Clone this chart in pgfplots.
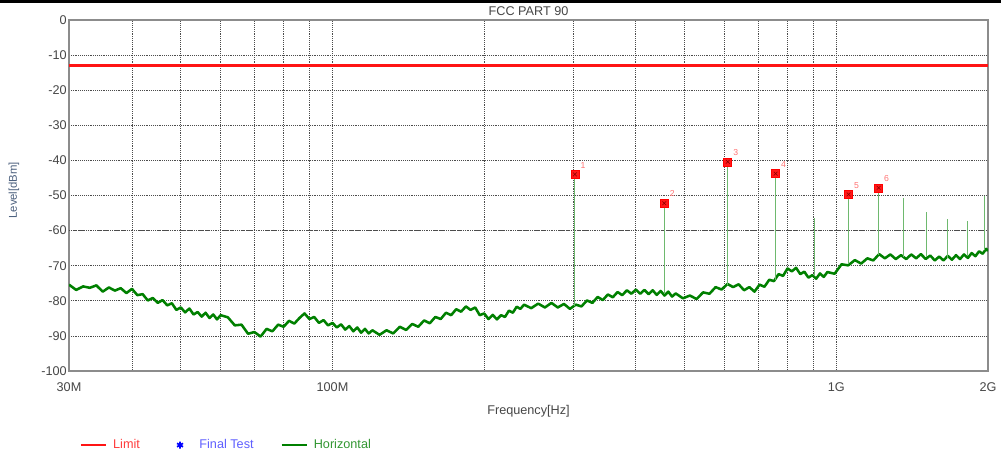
\documentclass[border=0pt]{standalone}
\usepackage{fontspec}
\setmainfont{Liberation Sans}
\usepackage{pgfplots}
\pgfplotsset{compat=1.18}

\definecolor{limitred}{RGB}{255,20,20}
\definecolor{tracegreen}{RGB}{0,128,0}
\definecolor{spikegreen}{RGB}{110,185,110}
\definecolor{labgray}{RGB}{70,70,70}
\definecolor{ylabcol}{RGB}{75,95,125}
\definecolor{legred}{RGB}{255,60,60}
\definecolor{legblue}{RGB}{95,95,255}
\definecolor{leggreen}{RGB}{50,150,50}

\pgfplotsset{
  limit legend/.style={legend image code/.code={
    \draw[draw=limitred, line width=0.9pt] (0pt,0pt) -- (18.75pt,0pt);}},
  trace legend/.style={legend image code/.code={
    \draw[draw=tracegreen, line width=0.9pt] (0pt,0pt) -- (18.75pt,0pt);}},
  star legend/.style={legend image code/.code={
    \path (0pt,0pt) (18.75pt,0pt);
    \draw[blue, line width=1.3pt, mark size=2.6pt] plot[mark=asterisk] coordinates {(9.4pt,0pt)};}},
}

\begin{document}
\begin{tikzpicture}
% page frame: 1 px = 0.75 pt
\useasboundingbox (-51.75pt,-71.25pt) rectangle (699pt,278.25pt);
\fill[black] (-51.75pt,276.2pt) rectangle (699pt,278.25pt);

\begin{axis}[
  scale only axis,
  width=689.25pt, height=263.25pt,
  xmode=log,
  xmin=30, xmax=2000, ymin=-100, ymax=0,
  xtick={30,100,1000,2000},
  xticklabels={30M,100M,1G,2G},
  minor xtick={40,50,60,70,80,90,200,300,400,500,600,700,800,900},
  ytick={-100,-90,-80,-70,-60,-50,-40,-30,-20,-10,0},
  yticklabels={-100,-90,-80,-70,-60,-50,-40,-30,-20,-10,0},
  extra y ticks={-60},
  extra y tick labels={},
  extra y tick style={grid style={black, densely dotted, line width=0.8pt}},
  grid=both,
  major grid style={black!70, densely dotted, line width=0.55pt},
  minor grid style={black!70, densely dotted, line width=0.55pt},
  major tick length=0pt, minor tick length=0pt,
  axis line style={black!45, line width=1.3pt},
  tick label style={font=\fontsize{9.5}{11}\selectfont, text=labgray},
  yticklabel style={inner sep=1.5pt},
  xticklabel style={yshift=-5pt},
  title={FCC PART 90},
  every axis title/.style={at={(axis description cs:0.5,1)}, anchor=center,
    yshift=7pt, font=\fontsize{9.5}{11}\selectfont, text=labgray},
  xlabel={Frequency[Hz]},
  every axis x label/.style={at={(axis description cs:0.5,0)}, anchor=center,
    yshift=-30pt, font=\fontsize{9.5}{11}\selectfont, text=labgray},
  ylabel={Level[dBm]},
  every axis y label/.style={at={(axis description cs:-0.0598,0.515)}, anchor=center,
    rotate=90, font=\fontsize{8.5}{10}\selectfont, text=ylabcol},
  legend columns=3,
  legend style={at={(axis description cs:0.012,-0.211)}, anchor=west,
    draw=none, fill=none, inner sep=0pt, font=\fontsize{9.5}{11}\selectfont,
    nodes={inner sep=0pt},
    /tikz/every odd column/.append style={column sep=5pt},
    /tikz/every even column/.append style={column sep=20.5pt}},
  legend cell align=left,
]

% limit line
\addplot[limitred, line width=2.1pt, limit legend]
  coordinates {(30,-13) (2000,-13)};
\addlegendentry{\textcolor{legred}{Limit}}

\addlegendimage{star legend}
\addlegendentry{\textcolor{legblue}{Final Test}}

% horizontal polarisation sweep
\addplot[tracegreen, line width=1.9pt, line join=round, trace legend]
  coordinates {
  (30,-75.4) (31,-76.9) (32,-75.9) (33,-76.3) (34,-75.6) (35,-77.4) (36,-76.2)
  (37,-77.1) (38,-76.4) (39,-77.8) (40,-76.6) (41,-78.4) (42,-78.1) (43,-79.9)
  (44,-79.2) (45,-80.6) (46,-79.8) (47,-81.3) (48,-80.7) (49,-82.6) (50,-81.9)
  (51,-83.3) (52,-82.2) (53,-83.9) (54,-83.2) (55,-84.5) (56,-83.4) (57,-84.9)
  (58,-83.9) (59,-85.3) (60,-84.1)
  (62,-84.7) (64,-87.0) (66,-86.8) (68,-89.4) (70,-88.9) (72,-90.2) (74,-88.0)
  (76,-88.7) (78,-86.8) (80,-87.4) (82,-85.7) (84,-86.5) (86,-84.9) (88,-83.6)
  (90,-85.2) (92,-84.6) (94,-86.3) (96,-85.5) (98,-87.0) (100,-86.3) (102,-87.6)
  (104,-86.7) (106,-88.2) (108,-87.2) (110,-88.7) (112,-87.6) (114,-89.1)
  (116,-88.0) (118,-89.3) (120,-88.4)
  (124,-89.7) (128,-88.4) (132,-89.3) (136,-87.4) (140,-88.3) (144,-86.6)
  (148,-87.4) (152,-85.6) (156,-86.4) (160,-84.6) (164,-85.2) (168,-83.4)
  (172,-84.1) (176,-82.4) (180,-83.1) (184,-81.6) (188,-82.6) (192,-81.9)
  (196,-84.1) (200,-83.6) (204,-85.2) (208,-84.0) (212,-85.3) (216,-84.1)
  (220,-84.6) (224,-82.8) (228,-83.4) (232,-81.7) (236,-82.3) (240,-81.1)
  (248,-82.1) (256,-80.8) (264,-81.9) (272,-80.6) (280,-81.9) (288,-80.9)
  (296,-82.3) (304,-81.1) (312,-81.6) (320,-79.9) (328,-80.6) (336,-78.9)
  (344,-79.8) (352,-78.2) (360,-79.0) (368,-77.5) (376,-78.4) (384,-77.0)
  (392,-78.0) (400,-76.8) (408,-78.0) (416,-76.9) (424,-78.1) (432,-77.0)
  (440,-78.3) (448,-77.2) (456,-78.5) (464,-77.4) (472,-78.8) (480,-77.9)
  (496,-79.3) (512,-78.5) (528,-79.5) (544,-77.6) (560,-78.0) (576,-76.1)
  (592,-76.8) (608,-75.2) (624,-76.1) (640,-75.3) (656,-77.0) (672,-76.1)
  (688,-77.4) (704,-75.4) (720,-76.0) (736,-74.0) (752,-74.4) (768,-72.4)
  (784,-72.9) (800,-70.8) (816,-71.6) (832,-70.6) (848,-72.4) (864,-71.7)
  (880,-73.4) (896,-72.7) (912,-73.7) (928,-72.2) (944,-73.2) (960,-71.8)
  (992,-72.3) (1024,-69.6) (1056,-69.9) (1088,-68.4) (1120,-69.4) (1152,-67.9)
  (1184,-68.5) (1216,-66.7) (1248,-67.9) (1280,-66.8) (1312,-68.1) (1344,-67.0)
  (1376,-68.1) (1408,-66.8) (1440,-67.9) (1472,-66.7) (1504,-68.1) (1536,-67.1)
  (1568,-68.5) (1600,-67.4) (1632,-68.5) (1664,-67.2) (1696,-68.3) (1728,-67.0)
  (1760,-68.1) (1792,-66.8) (1824,-67.8) (1856,-66.4) (1888,-67.3) (1920,-65.9)
  (1952,-66.6) (1984,-65.2) (2000,-65.8)
  };
\addlegendentry{\textcolor{leggreen}{Horizontal}}

% emission peaks
\addplot[spikegreen, line width=0.8pt, unbounded coords=jump, forget plot]
  coordinates {
  (302.8,-81.5) (302.8,-44.0) (302.8,nan)
  (455.6,-78.0) (455.6,-52.2) (455.6,nan)
  (608.7,-75.5) (608.7,-40.4) (608.7,nan)
  (757.8,-74.0) (757.8,-43.8) (757.8,nan)
  (906,-73.0) (906,-56.3) (906,nan)
  (1057.8,-69.5) (1057.8,-49.7) (1057.8,nan)
  (1213,-67.0) (1213,-47.8) (1213,nan)
  (1361,-67.5) (1361,-50.8) (1361,nan)
  (1508,-67.5) (1508,-54.6) (1508,nan)
  (1663,-67.8) (1663,-56.8) (1663,nan)
  (1819,-67.3) (1819,-57.4) (1819,nan)
  (1972,-65.5) (1972,-50.1)
  };

% marked peaks
\addplot[only marks, mark=square*, mark size=3pt, forget plot,
  mark options={fill=red!90!white, draw=red, line width=0.4pt},
  nodes near coords, point meta=explicit symbolic,
  every node near coord/.style={anchor=center, xshift=6pt, yshift=7pt,
    font=\fontsize{6.5}{7}\selectfont, text=red!55!white, inner sep=0pt}]
  coordinates {
  (302.8,-44.0) [1]
  (455.6,-52.2) [2]
  (608.7,-40.4) [3]
  (757.8,-43.8) [4]
  (1057.8,-49.7) [5]
  (1213,-47.8) [6]
  };
\addplot[only marks, mark=x, mark size=2pt, forget plot,
  mark options={draw=red!55!black, line width=0.4pt}]
  coordinates {
  (302.8,-44.0) (455.6,-52.2) (608.7,-40.4)
  (757.8,-43.8) (1057.8,-49.7) (1213,-47.8)
  };
\end{axis}
\end{tikzpicture}
\end{document}
